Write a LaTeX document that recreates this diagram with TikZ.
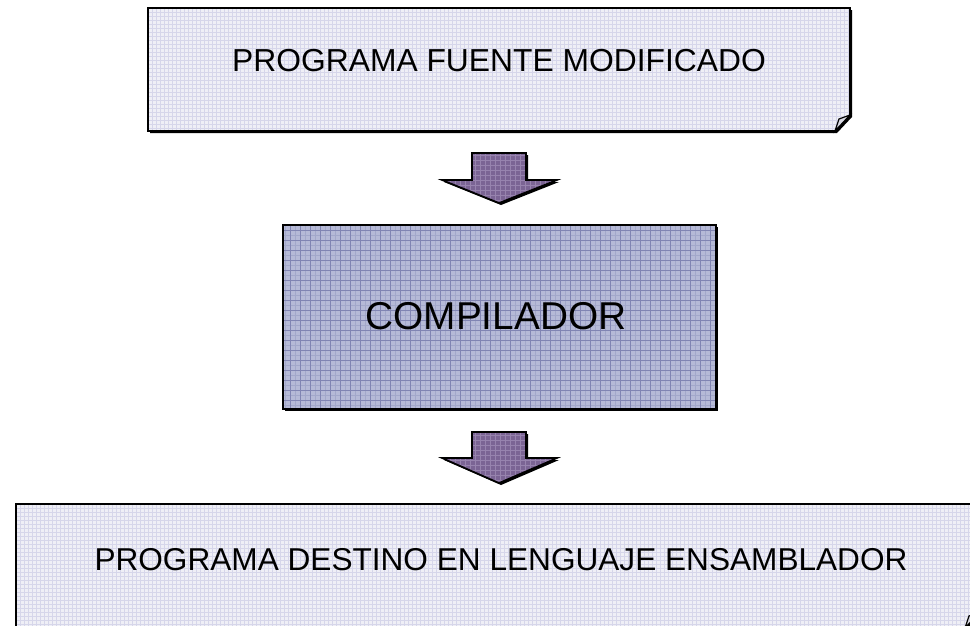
\documentclass[tikz,border=0pt]{standalone}
\usepackage{fontspec}
\setmainfont{Liberation Sans}
\definecolor{paleFill}{HTML}{EFEFF6}
\definecolor{paleGrid}{HTML}{D6D6EA}
\definecolor{compFill}{HTML}{B6BAD7}
\definecolor{compGrid}{HTML}{8185B3}
\definecolor{arrFill}{HTML}{7B6494}
\definecolor{arrGrid}{HTML}{9783AE}
\definecolor{foldFill}{HTML}{D8D8E2}
\tikzset{
  boxline/.style={draw=black, line width=1.6pt, line join=miter},
  shadowfill/.style={fill=black},
  labeltext/.style={inner sep=0pt, anchor=base, text=black},
}
\begin{document}
\begin{tikzpicture}[x=1pt,y=-1pt]
\useasboundingbox (0,0) rectangle (970,625);
\fill[white] (0,0) rectangle (970,625);
\clip (0,0) rectangle (970,625);

% ---------- top box (folded corner) ----------
\fill[shadowfill] (150,10) -- (852,10) -- (852,117) -- (837,133) -- (150,133) -- cycle;
\fill[paleFill] (148,8) -- (850,8) -- (850,115) -- (835,131) -- (148,131) -- cycle;
\begin{scope}
  \clip (148,8) -- (850,8) -- (850,115) -- (835,131) -- (148,131) -- cycle;
  \draw[paleGrid, line width=0.4pt, step=4pt] (140,0) grid (860,140);
\end{scope}
\draw[boxline] (148,8) -- (850,8) -- (850,115) -- (835,131) -- (148,131) -- cycle;
\draw[boxline, fill=foldFill, line width=1.2pt] (835,131) -- (839,119) -- (850,115) -- cycle;
\node[labeltext, font=\fontsize{31.8}{31.8}\selectfont] (src) at (499,71) {PROGRAMA FUENTE MODIFICADO};

% ---------- arrow 1 ----------
\fill[shadowfill] (474,155) -- (528,155) -- (528,182) -- (559,182) -- (501,205) -- (444,182) -- (474,182) -- cycle;
\fill[arrFill] (472,153) -- (526,153) -- (526,180) -- (557,180) -- (499,203) -- (442,180) -- (472,180) -- cycle;
\begin{scope}
  \clip (472,153) -- (526,153) -- (526,180) -- (557,180) -- (499,203) -- (442,180) -- (472,180) -- cycle;
  \draw[arrGrid, line width=0.5pt, step=5pt] (440,150) grid (560,205);
\end{scope}
\draw[boxline] (472,153) -- (526,153) -- (526,180) -- (557,180) -- (499,203) -- (442,180) -- (472,180) -- cycle;

% ---------- compiler box ----------
\fill[shadowfill] (285,227) rectangle (718,411);
\fill[compFill] (283,225) rectangle (716,409);
\begin{scope}
  \clip (283,225) rectangle (716,409);
  \draw[compGrid!35!compFill, line width=0.4pt, step=5pt] (280,220) grid (720,415);
  \draw[compGrid, line width=0.8pt, step=10pt] (280,220) grid (720,415);
\end{scope}
\draw[boxline] (283,225) rectangle (716,409);
\node[labeltext, font=\fontsize{38.8}{38.8}\selectfont] (comp) at (496,329) {COMPILADOR};

% ---------- arrow 2 ----------
\fill[shadowfill] (474,434) -- (528,434) -- (528,460) -- (559,460) -- (501,485) -- (444,460) -- (474,460) -- cycle;
\fill[arrFill] (472,432) -- (526,432) -- (526,458) -- (557,458) -- (499,483) -- (442,458) -- (472,458) -- cycle;
\begin{scope}
  \clip (472,432) -- (526,432) -- (526,458) -- (557,458) -- (499,483) -- (442,458) -- (472,458) -- cycle;
  \draw[arrGrid, line width=0.5pt, step=5pt] (440,430) grid (560,485);
\end{scope}
\draw[boxline] (472,432) -- (526,432) -- (526,458) -- (557,458) -- (499,483) -- (442,458) -- (472,458) -- cycle;

% ---------- bottom box (extends past the frame) ----------
\fill[shadowfill] (18,506) -- (982,506) -- (982,614) -- (967,630) -- (18,630) -- cycle;
\fill[paleFill] (16,504) -- (980,504) -- (980,612) -- (965,628) -- (16,628) -- cycle;
\begin{scope}
  \clip (16,504) -- (980,504) -- (980,612) -- (965,628) -- (16,628) -- cycle;
  \draw[paleGrid, line width=0.4pt, step=4pt] (10,500) grid (990,640);
\end{scope}
\draw[boxline] (16,504) -- (980,504) -- (980,612) -- (965,628) -- (16,628) -- cycle;
\draw[boxline, fill=foldFill, line width=1.2pt] (965,628) -- (969,616) -- (980,612) -- cycle;
\node[labeltext, font=\fontsize{31.6}{31.6}\selectfont] (dst) at (501,570) {PROGRAMA DESTINO EN LENGUAJE ENSAMBLADOR};
\end{tikzpicture}
\end{document}
